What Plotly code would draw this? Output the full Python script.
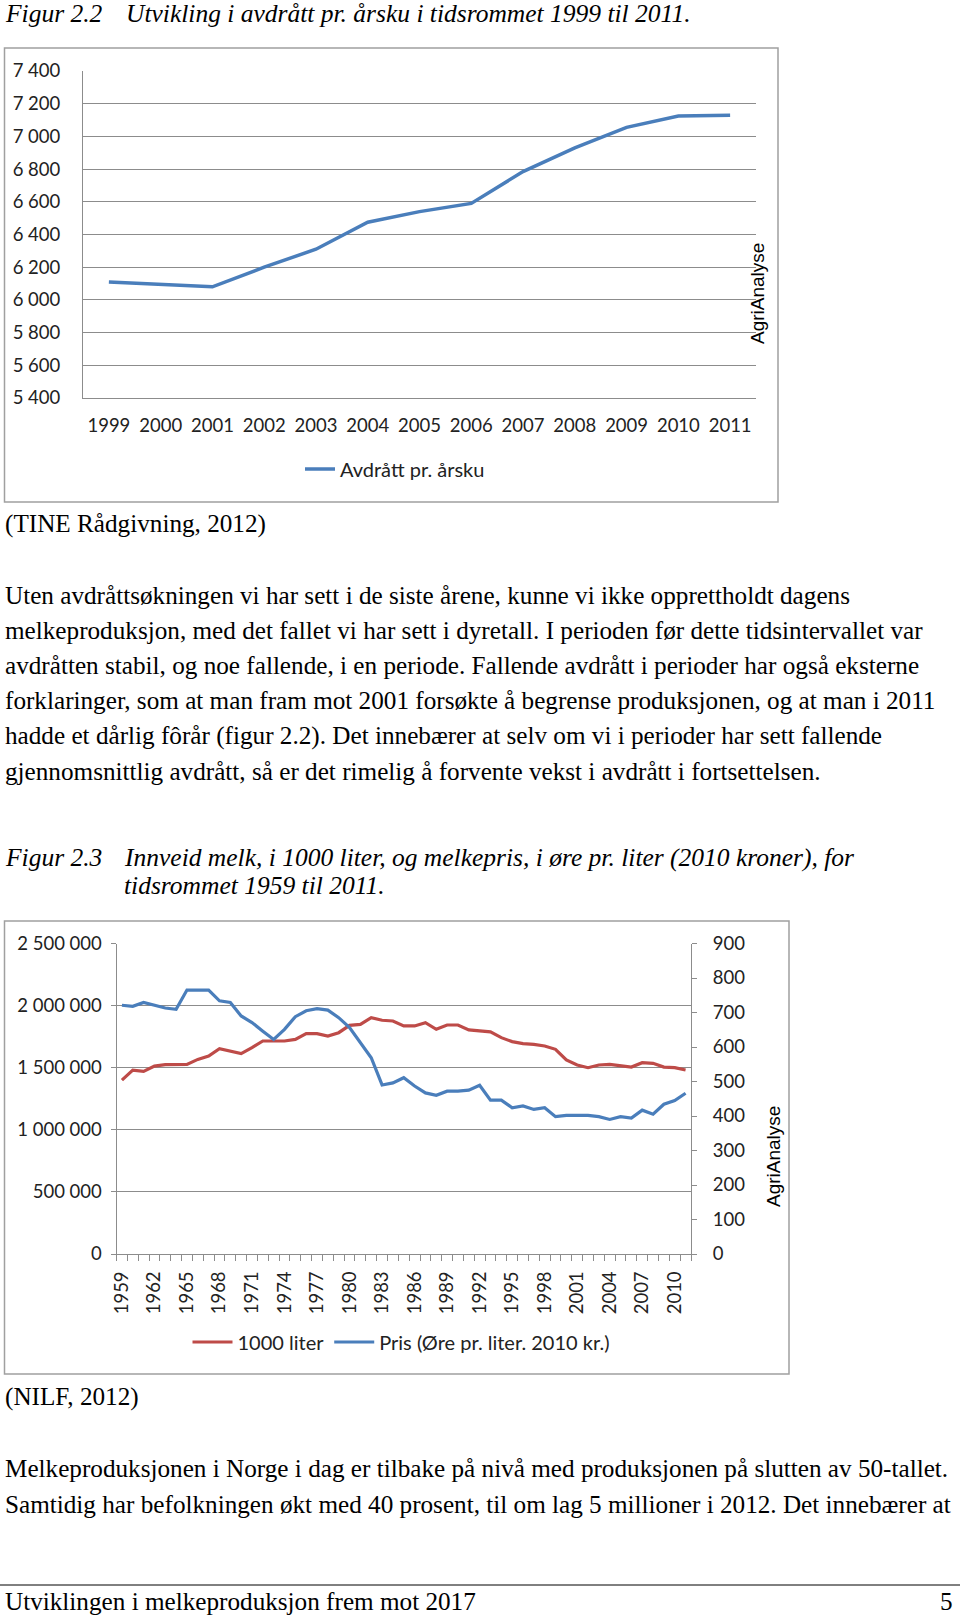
import plotly.graph_objects as go

# ---------------- data ----------------
years1 = [1999, 2000, 2001, 2002, 2003, 2004, 2005, 2006, 2007, 2008, 2009, 2010, 2011]
avdratt = [6110, 6095, 6080, 6200, 6310, 6475, 6540, 6590, 6785, 6930, 7055, 7125, 7130]

years2 = list(range(1959, 2012))
liter = [1400000, 1481000, 1470000, 1513000, 1524000, 1524000, 1527000, 1567000, 1594000, 1653000,
         1634000, 1613000, 1661000, 1715000, 1715000, 1715000, 1728000, 1774000, 1774000, 1755000,
         1782000, 1841000, 1849000, 1903000, 1882000, 1876000, 1836000, 1836000, 1863000, 1809000,
         1844000, 1844000, 1804000, 1796000, 1788000, 1742000, 1710000, 1694000, 1688000, 1675000,
         1648000, 1562000, 1522000, 1500000, 1522000, 1527000, 1519000, 1505000, 1540000, 1535000,
         1505000, 1500000, 1481000]
pris = [721, 718, 729, 722, 713, 709, 765, 765, 765, 734,
        729, 690, 671, 646, 622, 651, 688, 705, 711, 707,
        685, 656, 613, 569, 490, 496, 511, 487, 467, 460,
        472, 472, 475, 489, 446, 446, 424, 429, 419, 424,
        398, 402, 402, 402, 398, 390, 398, 394, 417, 405,
        434, 445, 466]

y1_ticks = [5400, 5600, 5800, 6000, 6200, 6400, 6600, 6800, 7000, 7200, 7400]
y1_text = ["5 400", "5 600", "5 800", "6 000", "6 200", "6 400", "6 600", "6 800", "7 000", "7 200", "7 400"]
y2_ticks = [0, 500000, 1000000, 1500000, 2000000, 2500000]
y2_text = ["0", "500 000", "1 000 000", "1 500 000", "2 000 000", "2 500 000"]
y3_ticks = [0, 100, 200, 300, 400, 500, 600, 700, 800, 900]
x2_labels = list(range(1959, 2012, 3))

W, H = 960, 1617
def X(px):
    return px / W
def Y(py):
    return 1 - py / H

CHART_FONT = "Lato, Carlito, Calibri, sans-serif"
SERIF = "Liberation Serif, Times New Roman, serif"
BLUE = "#4A7EBB"
RED = "#BE4B48"
GRID = "#8C8C8C"
TXT = "#222222"
CF = 18.5

fig = go.Figure()
fig.add_trace(go.Scatter(x=years1, y=avdratt, mode="lines", name="Avdrått pr. årsku",
                         line=dict(color=BLUE, width=3.5), xaxis="x", yaxis="y", legend="legend"))
fig.add_trace(go.Scatter(x=years2, y=liter, mode="lines", name="1000 liter",
                         line=dict(color=RED, width=3.2), xaxis="x2", yaxis="y2", legend="legend2"))
fig.add_trace(go.Scatter(x=years2, y=pris, mode="lines", name="Pris (Øre pr. liter. 2010 kr.)",
                         line=dict(color=BLUE, width=3.2), xaxis="x2", yaxis="y3", legend="legend2"))

tickfont = dict(family=CHART_FONT, size=CF, color=TXT)
legfont = dict(family=CHART_FONT, size=20, color=TXT)

layout = dict(
    width=W, height=H, margin=dict(l=0, r=0, t=0, b=0, pad=0, autoexpand=False),
    paper_bgcolor="white", plot_bgcolor="rgba(0,0,0,0)",
    showlegend=True,
    xaxis=dict(domain=[X(83), X(756)], range=[1998.5, 2011.5], tickmode="array",
               tickvals=years1, ticktext=[str(v) for v in years1], tickfont=tickfont,
               showgrid=False, zeroline=False, showline=True, linecolor=GRID, linewidth=1,
               ticks="", ticklabelstandoff=11, anchor="y", fixedrange=True, automargin=False),
    yaxis=dict(domain=[Y(398), Y(71)], range=[5400, 7400], tickmode="array",
               tickvals=y1_ticks, ticktext=y1_text, tickfont=tickfont,
               showgrid=True, gridcolor=GRID, gridwidth=1, zeroline=False,
               showline=True, linecolor=GRID, linewidth=1, ticks="",
               ticklabelstandoff=18, anchor="x", fixedrange=True, automargin=False),
    xaxis2=dict(domain=[X(116.5), X(691)], range=[1958.5, 2011.5], tickmode="array",
                tickvals=x2_labels, ticktext=[str(v) for v in x2_labels], tickangle=-90,
                tickfont=tickfont,
                showgrid=False, zeroline=False, showline=True, linecolor=GRID, linewidth=1,
                ticks="", ticklabelstandoff=9,
                minor=dict(tickmode="linear", tick0=1958.5, dtick=1, ticks="outside",
                           ticklen=6, tickcolor=GRID, tickwidth=1, showgrid=False),
                anchor="y2", fixedrange=True, automargin=False),
    yaxis2=dict(domain=[Y(1254), Y(943.5)], range=[0, 2500000], tickmode="array",
                tickvals=y2_ticks, ticktext=y2_text, tickfont=tickfont,
                showgrid=True, gridcolor=GRID, gridwidth=1, zeroline=False,
                showline=True, linecolor=GRID, linewidth=1, ticks="outside", ticklen=5,
                tickcolor=GRID, ticklabelstandoff=5, anchor="x2", fixedrange=True,
                automargin=False),
    yaxis3=dict(domain=[Y(1254), Y(943.5)], range=[0, 900], tickmode="array",
                tickvals=y3_ticks, ticktext=[str(v) for v in y3_ticks], tickfont=tickfont,
                overlaying="y2", side="right", anchor="x2",
                showgrid=False, zeroline=False, showline=True, linecolor=GRID, linewidth=1,
                ticks="outside", ticklen=5, tickcolor=GRID, ticklabelstandoff=12,
                fixedrange=True, automargin=False),
    legend=dict(orientation="h", x=X(395), y=Y(469), xanchor="center", yanchor="middle",
                font=legfont, bgcolor="rgba(0,0,0,0)"),
    legend2=dict(orientation="h", x=X(401), y=Y(1342), xanchor="center", yanchor="middle",
                 font=legfont, bgcolor="rgba(0,0,0,0)", itemwidth=40),
)
fig.update_layout(**layout)

shapes = [
    dict(type="rect", xref="paper", yref="paper", x0=X(4.5), x1=X(778), y0=Y(502), y1=Y(48),
         line=dict(color="#A0A0A0", width=1.5), layer="below"),
    dict(type="rect", xref="paper", yref="paper", x0=X(4.5), x1=X(789), y0=Y(1374), y1=Y(921),
         line=dict(color="#A0A0A0", width=1.5), layer="below"),
    dict(type="line", xref="paper", yref="paper", x0=0, x1=1, y0=Y(1585), y1=Y(1585),
         line=dict(color="black", width=1)),
]
fig.update_layout(shapes=shapes)

BODY = 25.2
ITAL = 25.5
def txt(x, y, s, anchor="left", size=BODY, italic=False):
    if italic:
        s = "<i>" + s + "</i>"
        size = ITAL
    fig.add_annotation(x=X(x), y=Y(y), xref="paper", yref="paper", text=s, showarrow=False,
                       xanchor=anchor, yanchor="middle",
                       font=dict(family=SERIF, size=size, color="black"))

txt(3, 13, "Figur 2.2", italic=True)
txt(124, 13, "Utvikling i avdrått pr. årsku i tidsrommet 1999 til 2011.", italic=True)
txt(3, 524, "(TINE Rådgivning, 2012)")
para = [
    "Uten avdråttsøkningen vi har sett i de siste årene, kunne vi ikke opprettholdt dagens",
    "melkeproduksjon, med det fallet vi har sett i dyretall. I perioden før dette tidsintervallet var",
    "avdråtten stabil, og noe fallende, i en periode. Fallende avdrått i perioder har også eksterne",
    "forklaringer, som at man fram mot 2001 forsøkte å begrense produksjonen, og at man i 2011",
    "hadde et dårlig fôrår (figur 2.2). Det innebærer at selv om vi i perioder har sett fallende",
    "gjennomsnittlig avdrått, så er det rimelig å forvente vekst i avdrått i fortsettelsen.",
]
for i, line in enumerate(para):
    txt(3, 595 + i * 35.2, line)
txt(3, 857, "Figur 2.3", italic=True)
txt(122, 857, "Innveid melk, i 1000 liter, og melkepris, i øre pr. liter (2010 kroner), for", italic=True)
txt(122, 885, "tidsrommet 1959 til 2011.", italic=True)
txt(3, 1397, "(NILF, 2012)")
txt(3, 1468, "Melkeproduksjonen i Norge i dag er tilbake på nivå med produksjonen på slutten av 50-tallet.")
txt(3, 1504, "Samtidig har befolkningen økt med 40 prosent, til om lag 5 millioner i 2012. Det innebærer at")
txt(3, 1601, "Utviklingen i melkeproduksjon frem mot 2017")
txt(955, 1601, "5", anchor="right")

for (x, y) in [(757, 294), (773, 1157)]:
    fig.add_annotation(x=X(x), y=Y(y), xref="paper", yref="paper", text="AgriAnalyse",
                       showarrow=False, textangle=-90, xanchor="center", yanchor="middle",
                       font=dict(family="Liberation Sans, Arial, sans-serif", size=19, color="black"))

post = (
    "document.documentElement.style.margin='0';"
    "document.documentElement.style.padding='0';"
    "document.body.style.margin='0';"
    "document.body.style.padding='0';"
    "document.documentElement.style.overflow='hidden';"
    "document.body.style.overflow='hidden';"
    "var d=document.querySelector('.plotly-graph-div');"
    "if(d){d.style.position='absolute';d.style.left='0px';d.style.top='0px';}"
)
fig.write_html("out.html", config={"displayModeBar": False}, post_script=post)
